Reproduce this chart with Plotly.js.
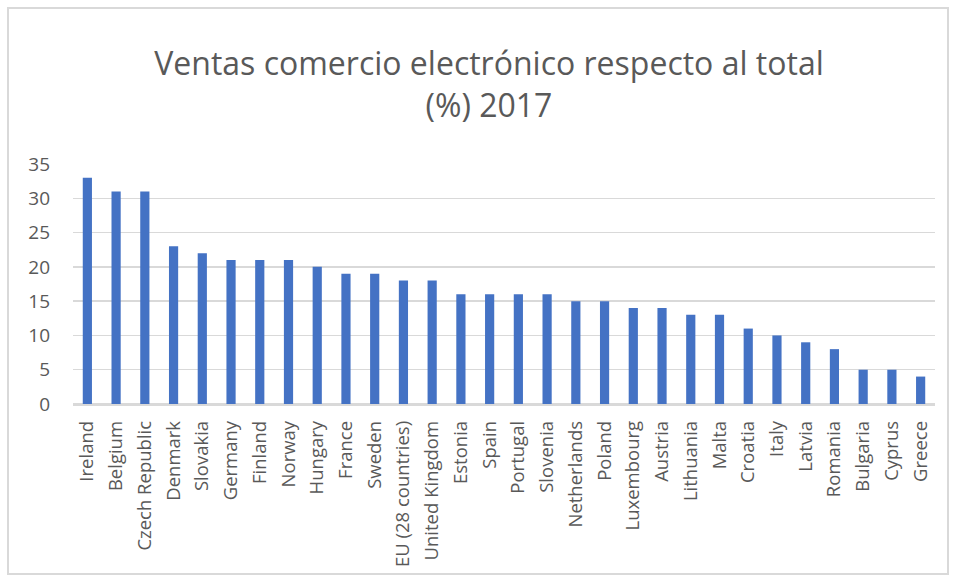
<!DOCTYPE html>
<html>
<head>
<meta charset="utf-8">
<script src="https://cdn.plot.ly/plotly-3.0.1.min.js"></script>
<style>
  html, body { margin: 0; padding: 0; background: #fff; }
  #wrap { position: relative; width: 956px; height: 579px; }
  #chart { width: 956px; height: 579px; }
  #frame { position: absolute; left: 7px; top: 7px; width: 942px; height: 568px;
           border: 2px solid #d9d9d9; box-sizing: border-box; pointer-events: none; }
</style>
</head>
<body>
<div id="wrap">
  <div id="chart"></div>
  <div id="frame"></div>
</div>
<script>
const countries = ["Ireland","Belgium","Czech Republic","Denmark","Slovakia","Germany","Finland","Norway","Hungary","France","Sweden","EU (28 countries)","United Kingdom","Estonia","Spain","Portugal","Slovenia","Netherlands","Poland","Luxembourg","Austria","Lithuania","Malta","Croatia","Italy","Latvia","Romania","Bulgaria","Cyprus","Greece"];
const salesPct = [33,31,31,23,22,21,21,21,20,19,19,18,18,16,16,16,16,15,15,14,14,13,13,11,10,9,8,5,5,4];
const yTicks = [0,5,10,15,20,25,30,35];
const titleText = "Ventas comercio electrónico respecto al total<br>(%) 2017";

const font = "'Open Sans', sans-serif";
const data = [{
  type: "bar",
  x: countries,
  y: salesPct,
  marker: { color: "#4472C4" },
  hoverinfo: "x+y"
}];
const layout = {
  width: 956, height: 579,
  margin: { l: 73, r: 21, t: 164, b: 175 },
  paper_bgcolor: "rgba(0,0,0,0)",
  plot_bgcolor: "#fff",
  bargap: 0.68,
  showlegend: false,
  title: {
    text: titleText,
    font: { family: font, size: 32, color: "#595959" },
    x: 489/956, xref: "container", xanchor: "center",
    y: 1 - 75/579, yref: "container", yanchor: "middle"
  },
  xaxis: {
    type: "category",
    tickangle: -90,
    tickfont: { family: font, size: 18.5, color: "#595959" },
    showgrid: false,
    showline: true, linecolor: "#d9d9d9", linewidth: 1.5,
    ticks: "", ticklen: 0, ticklabelstandoff: 8
  },
  yaxis: {
    range: [0, 35],
    tickvals: yTicks,
    ticktext: yTicks.map(String),
    tickfont: { family: font, size: 19, color: "#595959" },
    showgrid: true, gridcolor: "#d9d9d9", gridwidth: 1.5,
    zeroline: true, zerolinecolor: "#d9d9d9", zerolinewidth: 1.5,
    showline: false, ticks: "", ticklabelstandoff: 22
  }
};
Plotly.newPlot("chart", data, layout, { displayModeBar: false, staticPlot: true });
</script>
</body>
</html>
